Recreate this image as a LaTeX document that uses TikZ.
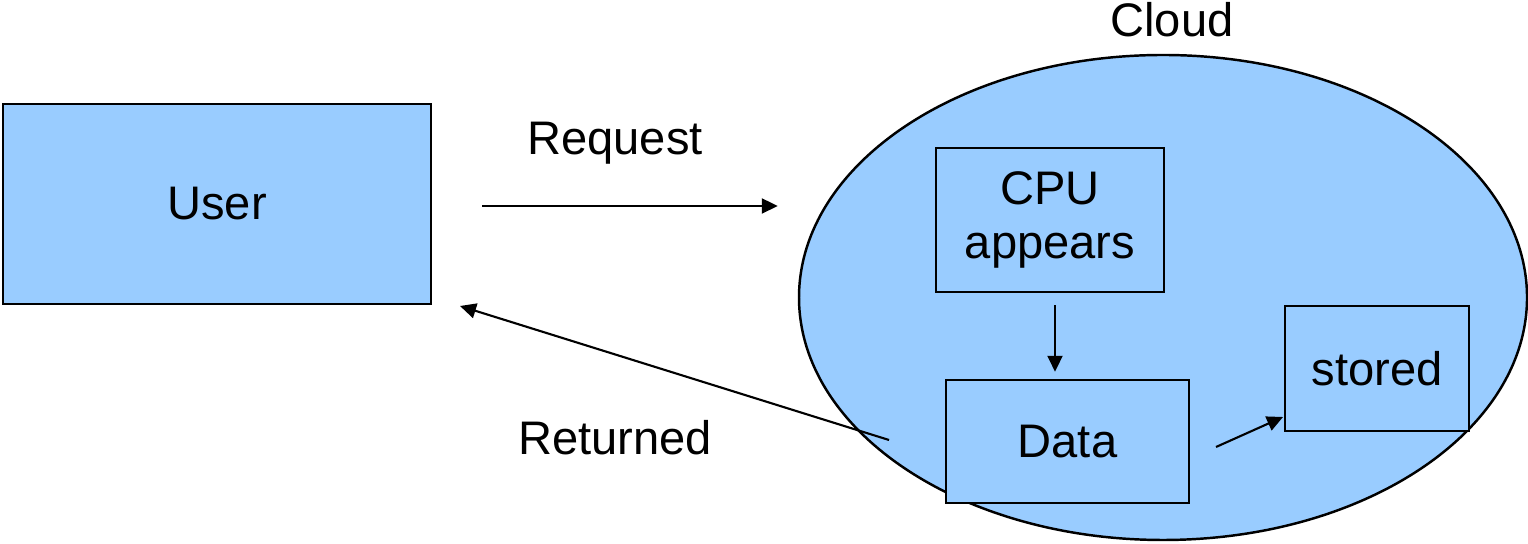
\documentclass[tikz,border=0pt]{standalone}
\usepackage{fontspec}
\setmainfont{Liberation Sans}
\usepackage{xcolor}
\usepackage{tikz}
\usetikzlibrary{shapes.geometric,arrows.meta,positioning,calc}
\definecolor{clblue}{HTML}{99CCFF}
\tikzset{
  clbox/.style={
    rectangle, draw=black, fill=clblue, line width=0.7pt,
    align=center, font=\fontsize{13.4}{15.6}\selectfont, inner sep=0pt
  },
  clcloud/.style={
    ellipse, draw=black, fill=clblue, line width=0.7pt,
    minimum width=7.28cm, minimum height=4.85cm, inner sep=0pt
  },
  clarrow/.style={-{Triangle[length=0.16cm,width=0.15cm]}, line width=0.6pt, draw=black},
  cllabel/.style={font=\fontsize{13.4}{15.6}\selectfont, inner sep=0pt, anchor=base},
}
\begin{document}
\begin{tikzpicture}
  \useasboundingbox (0,0) rectangle (15.28,-5.44);
  \node (cloud) [clcloud] at (11.63,-2.975) {};
  \node (cltxt) [cllabel] at (11.72,-0.37) {Cloud};
  \node (user) [clbox, minimum width=4.28cm, minimum height=2.0cm] at (2.17,-2.04) {User};
  \node (cpu) [clbox, minimum width=2.28cm, minimum height=1.44cm] at (10.50,-2.20) {CPU\\appears};
  \node (data) [clbox, minimum width=2.43cm, minimum height=1.23cm] at (10.675,-4.415) {Data};
  \node (stored) [clbox, minimum width=1.84cm, minimum height=1.25cm] at (13.77,-3.685) {stored};
  \node (req) [cllabel] at (6.15,-1.55) {Request};
  \node (ret) [cllabel] at (6.15,-4.55) {Returned};
  % free ends of the connectors
  \coordinate (retfrom) at (8.89,-4.40);
  \coordinate (retto) at (4.60,-3.06);
  \coordinate (stfrom) at (12.16,-4.47);
  \coordinate (stto) at (12.83,-4.17);
  \draw[clarrow, shorten <=0.5cm, shorten >=0.2cm] ([yshift=-0.02cm]user.east) -- ([yshift=-0.02cm]user.east -| cloud.west);
  \draw[clarrow] (retfrom) -- (retto);
  \draw[clarrow, shorten <=0.12cm, shorten >=0.07cm] ([xshift=0.05cm]cpu.south) -- ([xshift=0.05cm]cpu.south |- data.north);
  \draw[clarrow] (stfrom) -- (stto);
\end{tikzpicture}
\end{document}
